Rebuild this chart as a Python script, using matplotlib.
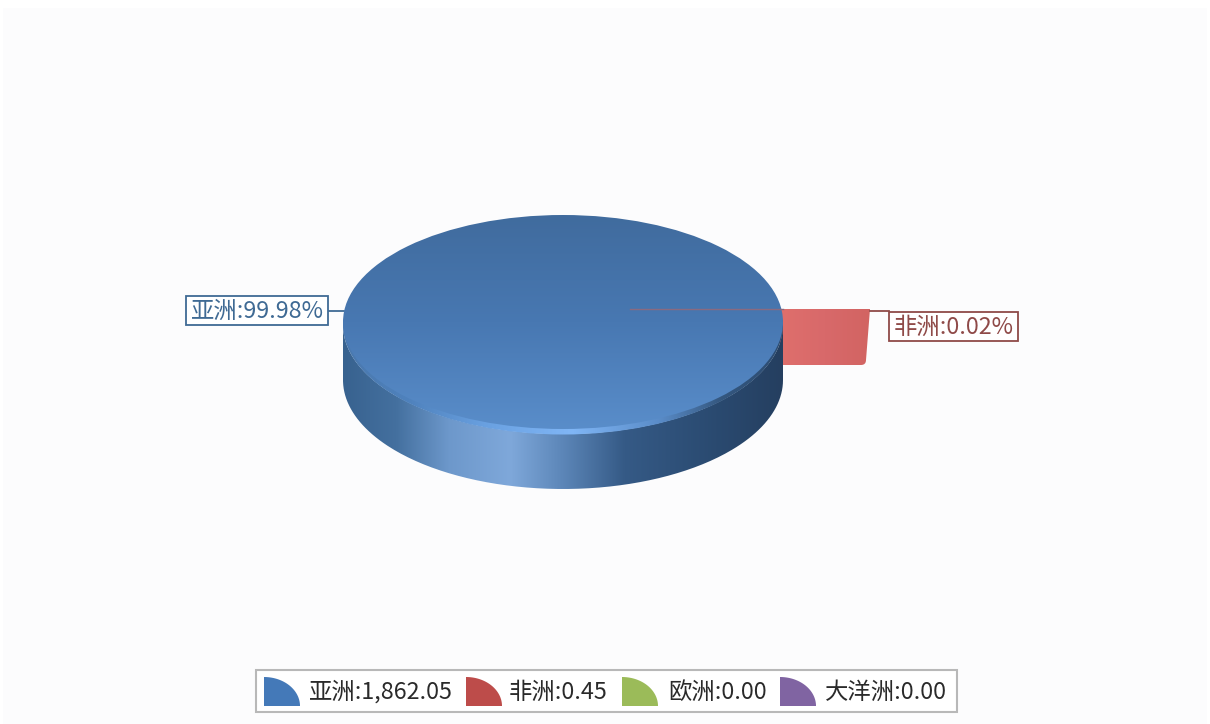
import numpy as np
import matplotlib
matplotlib.use("Agg")
import matplotlib.pyplot as plt
from matplotlib.colors import LinearSegmentedColormap
from matplotlib.patches import Ellipse, PathPatch, Polygon, Rectangle
from matplotlib.path import Path

plt.rcParams["font.family"] = ["Noto Sans CJK SC", "DejaVu Sans"]

# data
continents = ["亚洲", "非洲", "欧洲", "大洋洲"]
value_labels = ["1,862.05", "0.45", "0.00", "0.00"]
share_labels = ["99.98%", "0.02%"]
colors = ["#4479b8", "#bd4c4a", "#9bbb59", "#8064a2"]

W, H = 1210, 724
fig = plt.figure(figsize=(W / 100, H / 100), dpi=100, facecolor="white")
ax = fig.add_axes([0, 0, 1, 1])
ax.set_xlim(0, W)
ax.set_ylim(H, 0)
ax.axis("off")

ax.add_patch(Rectangle((3, 8), W - 6, H - 8, fc="#fcfcfd", ec="none", zorder=0))

# pie geometry
cx, cy = 563, 325
rx, ry = 220, 109
depth = 55


def gradient(stops, extent, clip, vertical=True, zorder=2):
    cmap = LinearSegmentedColormap.from_list("g", stops)
    ramp = np.linspace(0, 1, 256)
    grid = ramp[:, None] if vertical else ramp[None, :]
    im = ax.imshow(grid, cmap=cmap, extent=extent, aspect="auto",
                   origin="upper", zorder=zorder, interpolation="bilinear")
    im.set_clip_path(clip)
    ax.set_xlim(0, W)
    ax.set_ylim(H, 0)
    return im


# exploded red slice, only its wall shows
slice_x = 630
slice_r = 240
slice_y = 309
wall = Path([(slice_x, slice_y), (slice_x + slice_r, slice_y),
             (slice_x + slice_r - 4, slice_y + 51),
             (slice_x + slice_r - 4, slice_y + 56), (slice_x + slice_r - 9, slice_y + 56),
             (slice_x, slice_y + 56), (slice_x, slice_y)],
            [Path.MOVETO, Path.LINETO, Path.LINETO, Path.CURVE3, Path.CURVE3,
             Path.LINETO, Path.CLOSEPOLY])
wall_patch = PathPatch(wall, fc="none", ec="none", transform=ax.transData)
ax.add_patch(wall_patch)
gradient(["#df6f6c", "#d8696a", "#d26462"], (780, slice_x + slice_r, slice_y + 56, slice_y),
         wall_patch, vertical=False, zorder=1)

# side wall of the blue pie
theta = np.linspace(0, np.pi, 200)
xs = cx + rx * np.cos(theta)
ys = cy + ry * np.sin(theta)
side = Path(np.vstack([
    np.column_stack([xs, ys + depth]),
    np.column_stack([xs[::-1], ys[::-1]]),
]))
side_patch = PathPatch(side, fc="none", ec="none", transform=ax.transData)
ax.add_patch(side_patch)
gradient([(0.0, "#38628f"), (0.12, "#44709f"), (0.24, "#6d98cb"), (0.38, "#7fa8da"),
          (0.50, "#5c86b8"), (0.64, "#355a86"), (0.85, "#2a4a70"), (1.0, "#253f60")],
         (cx - rx, cx + rx, cy + ry + depth, cy - 10), side_patch, vertical=False)

# rim highlight under the top face
rim = Ellipse((cx, cy), 2 * rx, 2 * ry + 1, fc="none", ec="none")
ax.add_patch(rim)
gradient([(0.0, "#4a78ad"), (0.15, "#4f82bd"), (0.32, "#69a0e0"), (0.52, "#80b6f6"),
          (0.72, "#5a8cc8"), (0.86, "#34577f"), (1.0, "#2c4c72")],
         (cx - rx, cx + rx, cy + ry + 3, cy - 5), rim, vertical=False, zorder=3)

# top face
top = Ellipse((cx, cy - 3), 2 * rx, 2 * ry - 4, fc="none", ec="none")
ax.add_patch(top)
gradient(["#406b9d", "#4878b2", "#5a8ecb"], (cx - rx, cx + rx, cy + ry, cy - ry - 5), top, zorder=4)

# slice top surface seen edge on
ax.plot([slice_x, cx + rx], [slice_y, slice_y], color="#8a6a80", lw=1, zorder=5)


# data labels
def label(text, x0, x1, y0, y1, color):
    ax.add_patch(Rectangle((x0, y0), x1 - x0, y1 - y0, fc="white", ec=color, lw=1.3, zorder=6))
    ax.text((x0 + x1) / 2, (y0 + y1) / 2 + 1, text, color=color, fontsize=16.8,
            ha="center", va="center", zorder=7)


ax.plot([329, 344], [311, 311], color="#3f6a94", lw=1.3, zorder=1)
ax.plot([870, 889], [311, 311], color="#8f4a48", lw=1.3, zorder=1)
label(f"{continents[0]}:{share_labels[0]}", 186, 328, 296, 325, "#3f6a94")
label(f"{continents[1]}:{share_labels[1]}", 889, 1018, 312, 341, "#8f4a48")

# legend
ax.add_patch(Rectangle((256, 670), 701, 42, fc="white", ec="#b8b8b8", lw=1.5, zorder=2))
swatch_x = [264, 466, 622, 780]
text_x = [309, 509, 668, 825]
arc = np.linspace(0, np.pi / 2, 40)
for i in range(len(continents)):
    # quarter pie key, corner at the bottom left
    key_x = swatch_x[i] + 36 * np.sin(arc)
    key_y = 706 - 29 * np.cos(arc)
    key = np.column_stack([key_x, key_y])
    key = np.vstack([[swatch_x[i], 706], key])
    ax.add_patch(Polygon(key, closed=True, fc=colors[i], ec="none", zorder=3))
    ax.text(text_x[i], 692, f"{continents[i]}:{value_labels[i]}", color="#2a2a2a",
            fontsize=16.8, ha="left", va="center", zorder=3)

fig.savefig("out.png", dpi=100, facecolor="white")
